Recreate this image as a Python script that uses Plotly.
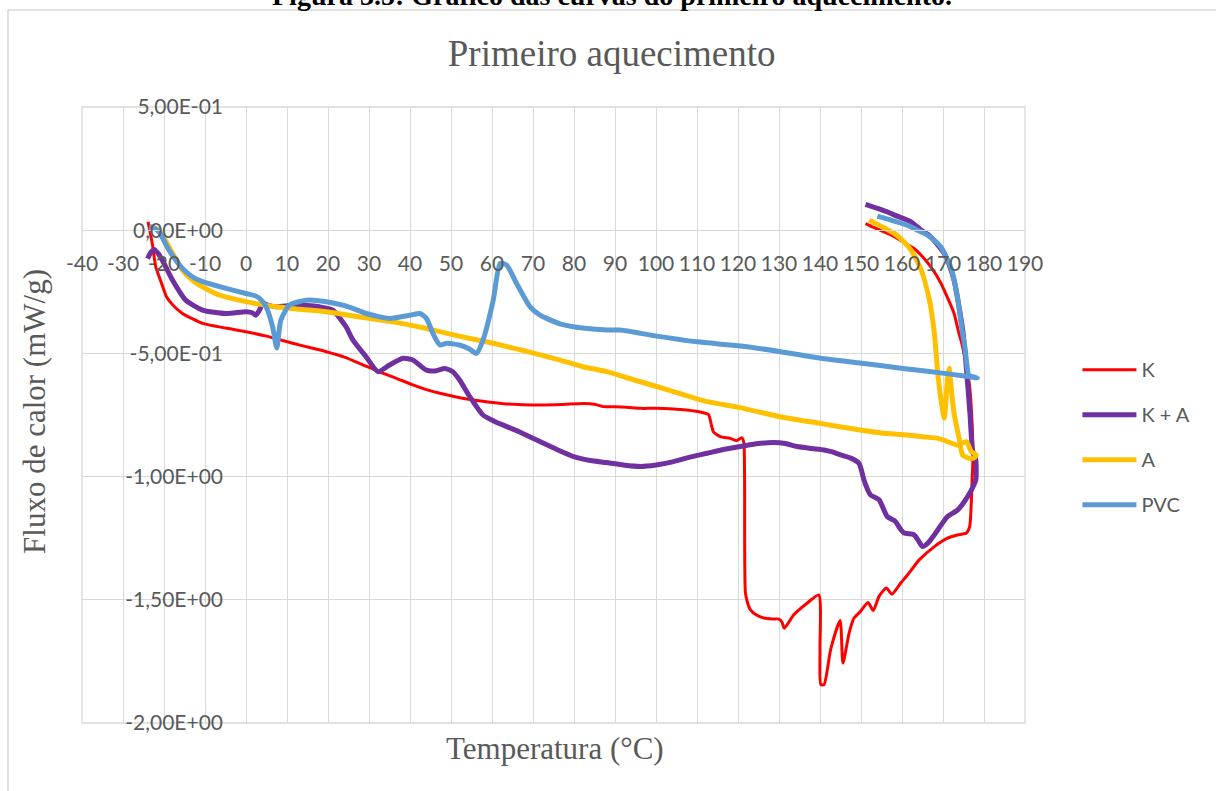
import plotly.graph_objects as go

# --- DSC heating curves: temperature (°C) and heat flow (mW/g) ---
k_temp = [-23.9, -22.8, -22, -20.5, -19.4, -17.5, -15.5, -13, -10.6, -5, 0, 5, 11.4, 16, 19.6, 24, 27.7,
          32.4, 36.5, 40.7, 44, 47.3, 51, 55.4, 59.5, 63.6, 67.5, 71.7, 77, 82.3, 85, 87.2, 90, 92.9, 96.3,
          100.2, 106, 110.5, 112.8, 113.5, 114, 115.7, 118.1, 119.7, 120.9, 121.4, 121.6, 121.8, 122.3, 123,
          124.5, 126.3, 128.5, 130, 130.7, 131.3, 133.6, 136.9, 139.7, 140.0, 140.2, 141, 142.6, 144.9, 145.6,
          147.1, 148.3, 149.9, 151.7, 153, 154.4, 156.2, 157.5, 159.7, 161.4, 164.2, 167.9, 171.1, 173.5,
          175.7, 176.5, 177.1, 177.3, 177.0, 176.4, 175.6, 174.6, 173.9, 172.7, 171, 169.5, 167.5, 165.4,
          163, 160.5, 158, 155.6, 153, 151.1]
k_flux = [0.034, -0.06, -0.149, -0.22, -0.27, -0.31, -0.338, -0.36, -0.378, -0.397, -0.412, -0.43, -0.459,
          -0.478, -0.493, -0.515, -0.54, -0.574, -0.6, -0.628, -0.647, -0.662, -0.676, -0.689, -0.698, -0.705,
          -0.708, -0.709, -0.707, -0.703, -0.706, -0.716, -0.717, -0.719, -0.723, -0.723, -0.728, -0.737,
          -0.748, -0.79, -0.818, -0.838, -0.845, -0.854, -0.842, -0.86, -1.0, -1.47, -1.51, -1.54, -1.562,
          -1.574, -1.578, -1.578, -1.59, -1.615, -1.561, -1.513, -1.48, -1.7, -1.844, -1.844, -1.702, -1.584,
          -1.757, -1.635, -1.574, -1.547, -1.511, -1.543, -1.486, -1.452, -1.477, -1.432, -1.398, -1.338,
          -1.284, -1.25, -1.237, -1.229, -1.203, -1.013, -0.92, -0.75, -0.62, -0.54, -0.46, -0.42, -0.338,
          -0.27, -0.215, -0.16, -0.115, -0.075, -0.05, -0.025, -0.007, 0.012, 0.027]

ka_temp = [-24, -23.2, -22.4, -21.4, -20.4, -17.9, -14.7, -10.6, -4.9, 0, 1.5, 2.4, 3.3, 4.1, 5.5, 7.3, 11.4,
           15, 17.9, 21.2, 23, 24.4, 26.1, 29.3, 32.2, 35, 38.3, 40.7, 44, 46.4, 48.5, 50.5, 52.1, 54.6, 57.8,
           60.5, 63.6, 67.5, 71.7, 75.8, 79.9, 84, 88, 92, 96.2, 100, 104.3, 108.5, 112.5, 116.5, 120.6, 124.5,
           128.7, 131.5, 134.4, 138, 141, 143, 145, 147.5, 149.5, 150.2, 150.7, 152.3, 154.4, 156.4, 158.4,
           159.5, 160.5, 162.9, 164, 165, 166.3, 167.9, 171.1, 173.6, 176, 177.5, 178, 178, 177.2, 176.6, 176,
           175.4, 174.8, 173.8, 172.7, 171.5, 170.3, 167, 164.7, 162.2, 158.2, 156.5, 151.1]
ka_flux = [-0.115, -0.09, -0.078, -0.095, -0.122, -0.203, -0.284, -0.324, -0.338, -0.331, -0.335, -0.345,
           -0.324, -0.297, -0.305, -0.311, -0.305, -0.306, -0.311, -0.324, -0.36, -0.392, -0.446, -0.514,
           -0.574, -0.547, -0.52, -0.527, -0.568, -0.57, -0.561, -0.575, -0.608, -0.676, -0.75, -0.775, -0.797,
           -0.825, -0.858, -0.89, -0.919, -0.935, -0.943, -0.953, -0.959, -0.953, -0.939, -0.92, -0.905, -0.89,
           -0.878, -0.867, -0.862, -0.866, -0.878, -0.886, -0.892, -0.9, -0.912, -0.925, -0.946, -0.98, -1.013,
           -1.074, -1.094, -1.162, -1.182, -1.21, -1.229, -1.236, -1.26, -1.284, -1.27, -1.236, -1.162, -1.135,
           -1.081, -1.035, -1.013, -0.932, -0.892, -0.75, -0.622, -0.5, -0.405, -0.3, -0.203, -0.14, -0.094,
           -0.027, 0.0, 0.034, 0.061, 0.074, 0.105]

a_temp = [-23.5, -21.2, -18.8, -17, -15.5, -13.5, -11.4, -6.5, 0, 7.3, 13, 19.6, 27, 35.9, 44, 52, 60.3, 68,
          76.6, 82, 88, 92, 96.2, 104.3, 112.5, 120.5, 130.2, 140, 149.8, 155, 161.4, 165, 168.8, 170, 173.6,
          175.7, 176.9, 178.1, 177.5, 176.4, 174.8, 174, 172.7, 172.1, 171.5, 171.1, 170.6, 170.3, 169.8,
          168.8, 167.9, 166.7, 164.7, 162.2, 159.7, 158.2, 155.6, 152]
a_flux = [0.014, 0.0, -0.068, -0.12, -0.162, -0.197, -0.223, -0.263, -0.29, -0.311, -0.321, -0.331, -0.35,
          -0.372, -0.399, -0.43, -0.459, -0.49, -0.527, -0.553, -0.574, -0.594, -0.615, -0.655, -0.696, -0.72,
          -0.757, -0.784, -0.811, -0.823, -0.831, -0.838, -0.845, -0.851, -0.872, -0.858, -0.899, -0.912,
          -0.925, -0.926, -0.912, -0.85, -0.743, -0.66, -0.56, -0.6, -0.72, -0.763, -0.72, -0.595, -0.419,
          -0.284, -0.162, -0.081, -0.035, -0.014, 0.01, 0.041]

pvc_temp = [-23.6, -22.5, -21.2, -18.8, -15.5, -13, -10.6, -4.9, 0, 2, 3.3, 4.9, 6.5, 7.5, 8.5, 10.6, 14.7,
            19.6, 23.6, 26.5, 29.3, 35, 39.9, 42.4, 44, 45.6, 47.3, 48.9, 52.1, 54.5, 56.2, 57.8, 60.3, 62,
            63.6, 66, 69.3, 71.7, 73.3, 76.6, 79.9, 84, 88, 91.3, 100.2, 110, 120.6, 130.4, 140.2, 150.2, 160.2,
            170.3, 175.2, 178.4, 176.5, 176.2, 175.3, 174.6, 173.6, 172, 169.5, 167.9, 166.2, 163.8, 161.3,
            157.5, 154]
pvc_flux = [0.014, 0.01, -0.007, -0.081, -0.155, -0.19, -0.209, -0.236, -0.257, -0.265, -0.277, -0.311,
            -0.392, -0.478, -0.365, -0.304, -0.284, -0.29, -0.304, -0.32, -0.338, -0.358, -0.345, -0.338,
            -0.358, -0.419, -0.466, -0.459, -0.466, -0.482, -0.5, -0.446, -0.284, -0.135, -0.142, -0.216,
            -0.311, -0.345, -0.358, -0.38, -0.392, -0.4, -0.405, -0.405, -0.43, -0.453, -0.47, -0.493, -0.52,
            -0.54, -0.561, -0.581, -0.592, -0.6, -0.59, -0.585, -0.47, -0.40, -0.28, -0.155, -0.068, -0.041,
            -0.02, 0.0, 0.02, 0.04, 0.057]

series_names = ["K", "K + A", "A", "PVC"]
series_colors = ["#ff0000", "#7030a0", "#ffc000", "#5b9bd5"]
series_widths = [3, 5, 5, 5]

x_ticks = list(range(-40, 200, 10))
x_tick_text = [str(t) for t in x_ticks]
y_ticks = [0.5, 0.0, -0.5, -1.0, -1.5, -2.0]
y_tick_text = ["5,00E-01", "0,00E+00", "-5,00E-01", "-1,00E+00", "-1,50E+00", "-2,00E+00"]

GRID = "#d9d9d9"
TEXT = "#595959"
SANS = "Lato, 'Open Sans', sans-serif"
SERIF = "'Liberation Serif', 'Times New Roman', serif"

fig = go.Figure()
for name, xs, ys, col, w in zip(series_names,
                                [k_temp, ka_temp, a_temp, pvc_temp],
                                [k_flux, ka_flux, a_flux, pvc_flux],
                                series_colors, series_widths):
    fig.add_trace(go.Scatter(
        x=xs, y=ys, mode="lines", name=name, legendgroup=name,
        line=dict(color=col, width=w, shape="spline", smoothing=0.6),
    ))

fig.update_layout(
    width=1216, height=791,
    margin=dict(l=82, r=191, t=107, b=68),
    paper_bgcolor="white", plot_bgcolor="white",
    title=dict(text="Primeiro aquecimento", x=0.503, xanchor="center",
               y=0.933, yanchor="middle",
               font=dict(family=SERIF, size=37, color=TEXT)),
    xaxis=dict(range=[-40, 190], domain=[0, 1], anchor="free", position=0.8,
               tickvals=x_ticks, ticktext=x_tick_text, ticks="",
               showgrid=True, gridcolor=GRID, gridwidth=1.3,
               showline=True, linecolor=GRID, linewidth=1.3, zeroline=False,
               ticklabelstandoff=14,
               tickfont=dict(family=SANS, size=21, color=TEXT)),
    yaxis=dict(range=[-2, 0.5], domain=[0, 1], anchor="free", position=40 / 230,
               tickvals=y_ticks, ticktext=y_tick_text, ticks="",
               showgrid=True, gridcolor=GRID, gridwidth=1.3,
               showline=False, zeroline=False,
               ticklabelstandoff=23,
               tickfont=dict(family=SANS, size=21, color=TEXT)),
    legend=dict(x=1.0556, xanchor="left", y=0.464, yanchor="middle",
                font=dict(family=SANS, size=20, color=TEXT),
                itemwidth=54, tracegroupgap=16, bgcolor="rgba(0,0,0,0)"),
    showlegend=True,
)

# Plot-area border and outer chart frame
fig.add_shape(type="rect", xref="paper", yref="paper", x0=0, x1=1, y0=0, y1=1,
              line=dict(color=GRID, width=1.3), layer="below")
fig.add_shape(type="rect", xref="paper", yref="paper", x0=-0.0785, x1=1.35, y0=-0.3, y1=1.1575,
              line=dict(color=GRID, width=1.5), layer="below")

# Caption and axis titles
fig.add_annotation(text="<b>Figura 3.5: Gráfico das curvas do primeiro aquecimento.</b>",
                   xref="paper", yref="paper", x=0.562, y=1.1518, xanchor="center", yanchor="bottom",
                   showarrow=False, font=dict(family=SERIF, size=28, color="black"))
fig.add_annotation(text="Temperatura (°C)", xref="paper", yref="paper", x=0.5016, y=-0.0406,
                   xanchor="center", yanchor="middle", showarrow=False,
                   font=dict(family=SERIF, size=31, color=TEXT))
fig.add_annotation(text="Fluxo de calor (mW/g)", xref="paper", yref="paper", x=-0.0498, y=0.505,
                   xanchor="center", yanchor="middle", textangle=-90, showarrow=False,
                   font=dict(family=SERIF, size=31, color=TEXT))

fig.write_html("out.html")
